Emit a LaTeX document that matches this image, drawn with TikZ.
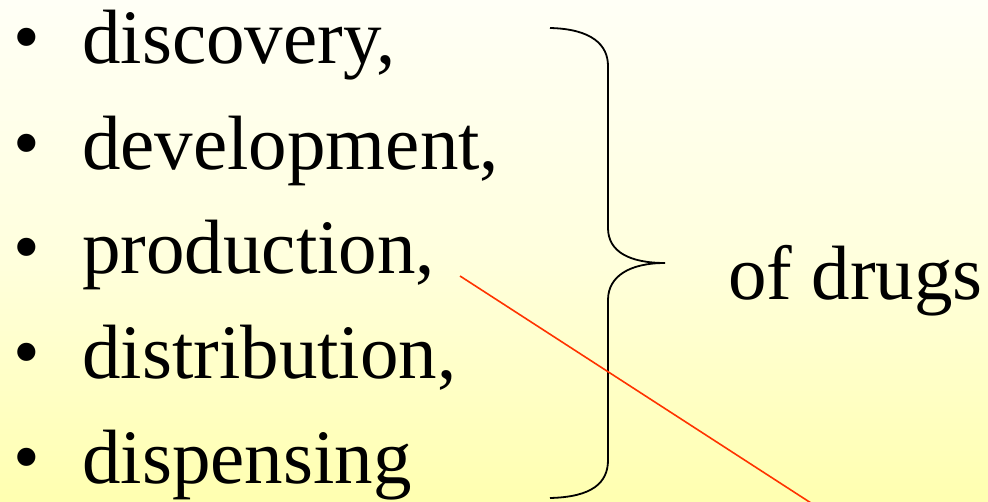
\documentclass[tikz,border=0pt]{standalone}
\usepackage{fontspec}
\setmainfont{Liberation Serif}
\begin{document}
\begin{tikzpicture}[x=1pt,y=-1pt,
  item/.style={anchor=base west,inner sep=0pt,font=\fontsize{77}{77}\selectfont},
  bul/.style={anchor=base,inner sep=0pt,font=\fontsize{76}{76}\selectfont},
  bracepath/.style={draw=black,line width=1.8pt},
  pointer/.style={draw={rgb,255:red,255;green,51;blue,0},line width=1.6pt}]
\definecolor{bgtop}{RGB}{255,255,246}
\definecolor{bgmid}{RGB}{255,255,222}
\definecolor{bgbot}{RGB}{255,255,176}
\useasboundingbox (0,0) rectangle (988,502);
\shade[top color=bgtop,bottom color=bgbot,middle color=bgmid] (0,0) rectangle (988,502);
\node[bul] (ba) at (27,63) {•};
\node[item] (a) at (82,64) {discovery,};
\node[bul] (bb) at (27,169) {•};
\node[item] (b) at (82,170) {development,};
\node[bul] (bc) at (27,273) {•};
\node[item] (c) at (82,274) {production,};
\node[bul] (bd) at (27,378) {•};
\node[item] (d) at (82,379) {distribution,};
\node[bul] (be) at (27,482) {•};
\node[item] (e) at (82,483) {dispensing};
\node[item] (drugs) at (728,300) {of drugs};
\coordinate (btop) at (550,28);
\coordinate (bbot) at (550,498);
\coordinate (btip) at (665,263);
\draw[bracepath] (btop) .. controls (592,29) and (608,45) .. (608,66) -- (608,228)
  .. controls (608,252) and (630,263) .. (btip)
  .. controls (630,263) and (608,276) .. (608,300) -- (608,460)
  .. controls (608,483) and (592,497) .. (bbot);
\coordinate (rstart) at (460,276);
\coordinate (rend) at (811,503);
\draw[pointer] (rstart) -- (rend);
\end{tikzpicture}
\end{document}
